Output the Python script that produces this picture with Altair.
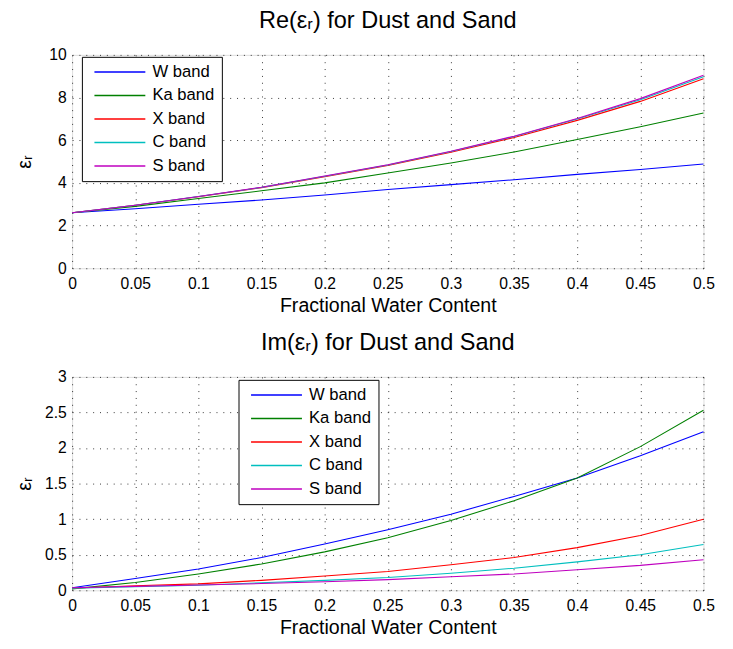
import altair as alt
import pandas as pd

x_vals = [0, 0.05, 0.1, 0.15, 0.2, 0.25, 0.3, 0.35, 0.4, 0.45, 0.5]
bands = ["W band", "Ka band", "X band", "C band", "S band"]
colors = ["#0000ff", "#008000", "#ff0000", "#00bfbf", "#bf00bf"]

re_w = [2.6, 2.79, 3.0, 3.2, 3.43, 3.69, 3.92, 4.15, 4.40, 4.63, 4.89]
re_ka = [2.6, 2.9, 3.27, 3.63, 4.0, 4.46, 4.93, 5.45, 6.03, 6.63, 7.28]
re_x = [2.6, 2.95, 3.35, 3.78, 4.29, 4.82, 5.44, 6.13, 6.93, 7.82, 8.88]
re_c = [2.6, 2.95, 3.36, 3.79, 4.31, 4.84, 5.47, 6.17, 6.99, 7.9, 8.97]
re_s = [2.6, 2.95, 3.36, 3.8, 4.32, 4.85, 5.48, 6.19, 7.02, 7.95, 9.04]

im_w = [0.035, 0.165, 0.30, 0.46, 0.65, 0.85, 1.07, 1.32, 1.58, 1.89, 2.23]
im_ka = [0.02, 0.11, 0.23, 0.37, 0.54, 0.74, 0.98, 1.26, 1.58, 2.02, 2.53]
im_x = [0.03, 0.065, 0.09, 0.14, 0.20, 0.265, 0.36, 0.46, 0.6, 0.77, 1.0]
im_c = [0.03, 0.05, 0.07, 0.105, 0.14, 0.18, 0.24, 0.31, 0.40, 0.50, 0.645]
im_s = [0.035, 0.055, 0.075, 0.095, 0.12, 0.15, 0.19, 0.23, 0.29, 0.35, 0.43]

re_ticks = [0, 2, 4, 6, 8, 10]
im_ticks = [0, 0.5, 1, 1.5, 2, 2.5, 3]


def make_df(series):
    rows = []
    for b, vals in zip(bands, series):
        for xv, v in zip(x_vals, vals):
            rows.append({"x": xv, "v": v, "band": b})
    return pd.DataFrame(rows)


FONT = "Liberation Sans"


def panel(df, title, ymax, yticks, lx, ly):
    return alt.Chart(
        df,
        title=alt.TitleParams(title, fontSize=24, font=FONT, fontWeight="normal",
                              color="black", offset=14, frame="group"),
    ).mark_line(strokeWidth=1.1).encode(
        x=alt.X("x:Q", scale=alt.Scale(domain=[0, 0.5], nice=False, zero=False),
                axis=alt.Axis(values=x_vals, format=".2~f", title="Fractional Water Content",
                              grid=True, gridDash=[1, 6], gridColor="black", gridOpacity=0.8,
                              tickSize=0, labelPadding=8, labelFontSize=16, labelFont=FONT,
                              labelColor="black", titleFontSize=20, titleFont=FONT,
                              titleFontWeight="normal", titleColor="black", titlePadding=4,
                              domain=False, labelFlush=False)),
        y=alt.Y("v:Q", scale=alt.Scale(domain=[0, ymax], nice=False),
                axis=alt.Axis(values=yticks, format=".1~f", title="εᵣ",
                              grid=True, gridDash=[1, 6], gridColor="black", gridOpacity=0.8,
                              tickSize=0, labelPadding=6, labelFontSize=16, labelFont=FONT,
                              labelColor="black", titleFontSize=20, titleFont=FONT,
                              titleFontWeight="normal", titleColor="black",
                              titleX=-48, titleBaseline="middle", titleAngle=-90,
                              domain=False, labelFlush=False)),
        color=alt.Color("band:N", scale=alt.Scale(domain=bands, range=colors),
                        legend=alt.Legend(orient="none", legendX=lx, legendY=ly, title=None,
                                          symbolType="M-0.54,0H9.86", symbolSize=100,
                                          symbolStrokeWidth=1.5, symbolOffset=0,
                                          labelFontSize=17, labelFont=FONT, labelColor="black",
                                          labelOffset=48, rowPadding=6, padding=7,
                                          strokeColor="black", fillColor="white",
                                          labelLimit=200)),
    ).properties(width=645, height=218)


top = panel(make_df([re_w, re_ka, re_x, re_c, re_s]), "Re(εᵣ) for Dust and Sand",
            10, re_ticks, 10, 2)
bottom = panel(make_df([im_w, im_ka, im_x, im_c, im_s]), "Im(εᵣ) for Dust and Sand",
               3, im_ticks, 170, 3)

chart = alt.vconcat(top, bottom, spacing=15).resolve_scale(color="independent").properties(
    padding={"left": 6.5, "top": -6, "right": 10, "bottom": 0}
).configure_view(stroke="black", strokeWidth=1).configure(background="white")

chart.save("out.html", embed_options={"renderer": "svg", "actions": False})
